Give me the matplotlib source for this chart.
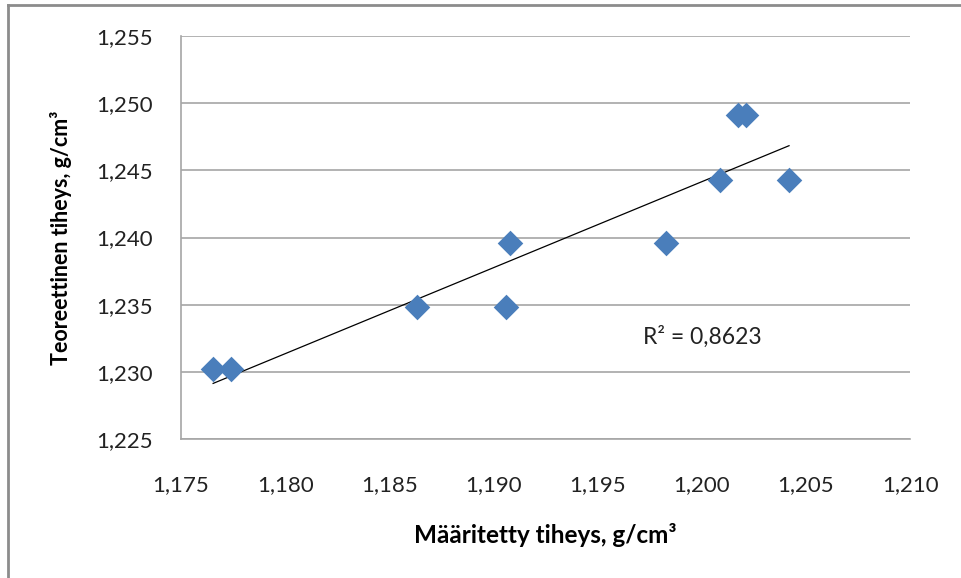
import matplotlib
matplotlib.use('Agg')
import matplotlib.pyplot as plt
import numpy as np
from matplotlib.ticker import FuncFormatter, MultipleLocator

# Measured vs theoretical density (g/cm3)
measured = [1.17654, 1.17740, 1.18633, 1.19060, 1.19079, 1.19828, 1.20088, 1.20174, 1.20212, 1.20419]
theoretical = [1.2302, 1.2302, 1.2348, 1.2348, 1.2396, 1.2396, 1.2443, 1.2491, 1.2491, 1.2443]

r2_label = 'R² = 0,8623'
x_label = 'Määritetty tiheys, g/cm³'
y_label = 'Teoreettinen tiheys, g/cm³'

plt.rcParams['font.family'] = ['Lato', 'DejaVu Sans']

fig = plt.figure(figsize=(9.62, 5.78), dpi=100)
ax = fig.add_axes([0.1882, 0.2405, 0.946 - 0.1882, 0.9377 - 0.2405])

# outer chart frame (only top and left visible in the reference)
fig.lines.append(plt.Line2D([0.008, 0.008], [0.0, 0.991], transform=fig.transFigure,
                            color='#8c8c8c', linewidth=2.0))
fig.lines.append(plt.Line2D([0.008, 1.0], [0.991, 0.991], transform=fig.transFigure,
                            color='#8c8c8c', linewidth=2.0))

ax.scatter(measured, theoretical, marker='D', s=170, color='#4a7ebb', zorder=3,
           linewidths=0)

# linear trendline
k, b = np.polyfit(measured, theoretical, 1)
xs = np.array([min(measured), max(measured)])
ax.plot(xs, k * xs + b, color='black', linewidth=0.9, zorder=2)

ax.text(1.1972, 1.2326, r2_label, fontsize=16.5, va='center', ha='left', color='#222222')

ax.set_xlim(1.175, 1.210)
ax.set_ylim(1.225, 1.255)
ax.xaxis.set_major_locator(MultipleLocator(0.005))
ax.yaxis.set_major_locator(MultipleLocator(0.005))
fmt = FuncFormatter(lambda v, p: '{0:.3f}'.format(v).replace('.', ','))
ax.xaxis.set_major_formatter(fmt)
ax.yaxis.set_major_formatter(fmt)

ax.grid(axis='y', color='#a6a6a6', linewidth=1.2)
ax.set_axisbelow(True)
for side in ['top', 'right']:
    ax.spines[side].set_visible(False)
for side in ['left', 'bottom']:
    ax.spines[side].set_color('#a6a6a6')
    ax.spines[side].set_linewidth(1.2)
ax.tick_params(length=0, labelsize=16, colors='#222222')
ax.tick_params(axis='y', pad=20)
ax.tick_params(axis='x', pad=26)

ax.set_xlabel(x_label, fontsize=17.5, fontweight='bold', labelpad=20)
ax.set_ylabel(y_label, fontsize=15.5, fontweight='bold', labelpad=18)

fig.savefig('out.png', dpi=100)
